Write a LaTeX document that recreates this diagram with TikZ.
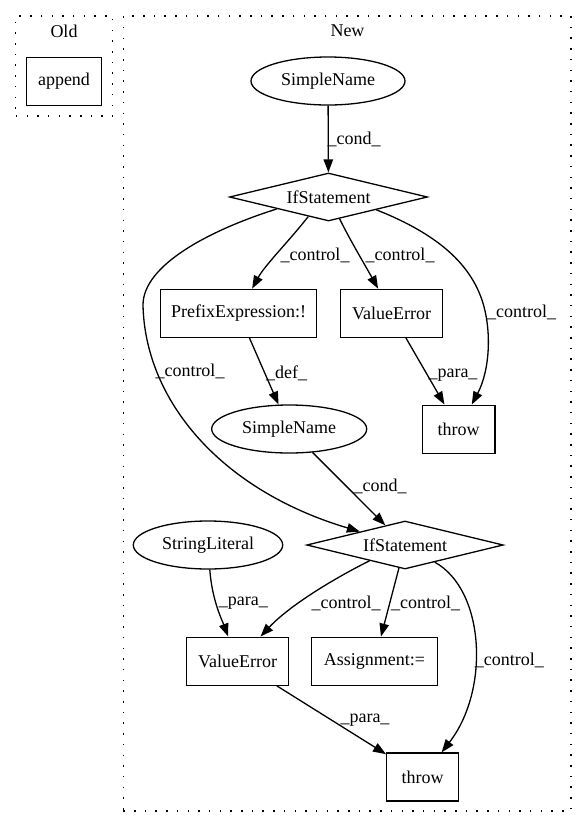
\documentclass[tikz,border=0pt]{standalone}
\usepackage{fontspec}
\setmainfont{Liberation Serif}
\usetikzlibrary{shapes.geometric,arrows.meta}
\begin{document}
\begin{tikzpicture}[x=1pt,y=-1pt,
  every node/.style={font=\fontsize{18}{21}\selectfont, inner sep=0pt},
  line width=1.3pt,
  cluster/.style={draw, line width=1.3pt, dash pattern=on 1.5pt off 9.2pt},
  boxnode/.style={draw, rectangle, minimum height=48pt},
  ellnode/.style={draw, ellipse, minimum height=48pt},
  dianode/.style={draw, diamond, aspect=4.1, minimum height=48pt},
  edge/.style={draw, -{Triangle[length=13pt,width=9.5pt]}},
  lbl/.style={}]
\useasboundingbox (0,0) rectangle (587,828);
% clusters
\node[cluster, minimum width=97pt, minimum height=100pt] (oldc) at (64.3,66) {};
\node (oldlbl) at (64,31) {Old};
\node[cluster, minimum width=447.7pt, minimum height=795pt] (newc) at (347.15,413.5) {};
\node (newlbl) at (347.5,31) {New};
% nodes
\node[boxnode, minimum width=75.3pt] (append) at (64,81.3) {append};
\node[ellnode, minimum width=154pt] (sn1) at (328,81) {SimpleName};
\node[dianode, minimum width=198pt] (if1) at (328.5,197) {IfStatement};
\node[boxnode, minimum width=156pt] (pre) at (238.7,313.3) {PrefixExpression:!};
\node[boxnode, minimum width=102pt] (ve1) at (391.7,313.3) {ValueError};
\node[boxnode, minimum width=72.7pt] (throw1) at (458.7,429.2) {throw};
\node[ellnode, minimum width=155pt] (sn2) at (289.2,429) {SimpleName};
\node[dianode, minimum width=196.6pt] (if2) at (405,545) {IfStatement};
\node[ellnode, minimum width=149.4pt] (sl) at (208,545) {StringLiteral};
\node[boxnode, minimum width=101.6pt] (ve2) at (237.5,661.2) {ValueError};
\node[boxnode, minimum width=125.6pt] (asg) at (374.5,661.2) {Assignment:=};
\node[boxnode, minimum width=71.6pt] (throw2) at (422.5,777) {throw};
% edges
\path[edge] (sn1) -- (if1);
\path[edge] (if1.224) .. controls (290,240) and (265,265) .. (pre);
\path[edge] (if1.297) .. controls (350,240) and (365,265) .. (ve1);
\path[edge] (if1.345) .. controls (440,235) and (470,265) .. (482,300)
   .. controls (492,330) and (490,370) .. (throw1);
\path[edge] (if1.193) .. controls (210,230) and (143,265) .. (143,305)
   .. controls (145,400) and (220,490) .. (if2);
\path[edge] (pre) -- (sn2);
\path[edge] (ve1) -- (throw1);
\path[edge] (sn2) -- (if2);
\path[edge] (sl) .. controls (212,600) and (222,620) .. (ve2);
\path[edge] (if2.204.6) .. controls (335,578) and (290,605) .. (ve2);
\path[edge] (if2) -- (asg);
\path[edge] (if2.330) .. controls (485,590) and (490,690) .. (throw2);
\path[edge] (ve2) -- (throw2);
% labels
\node[lbl] (l1) at (354,139) {\_cond\_};
\node[lbl] (l2) at (315,255) {\_control\_};
\node[lbl] (l3) at (400,255) {\_control\_};
\node[lbl] (l4) at (521.7,312.7) {\_control\_};
\node[lbl] (l5) at (190,371.7) {\_control\_};
\node[lbl] (l6) at (286.7,373) {\_def\_};
\node[lbl] (l7) at (453,375) {\_para\_};
\node[lbl] (l8) at (380,486.7) {\_cond\_};
\node[lbl] (l9) at (243.3,603.3) {\_para\_};
\node[lbl] (l10) at (346,603.3) {\_control\_};
\node[lbl] (l11) at (425.7,603.3) {\_control\_};
\node[lbl] (l12) at (509.3,660) {\_control\_};
\node[lbl] (l13) at (365,720) {\_para\_};
\end{tikzpicture}
\end{document}
